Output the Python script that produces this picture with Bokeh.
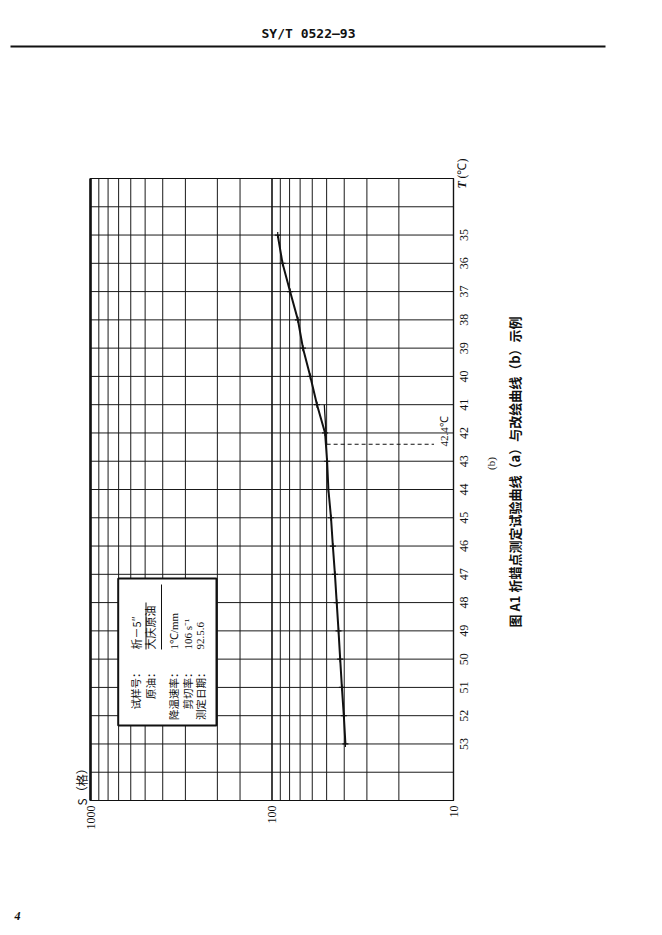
import math
from bokeh.plotting import figure
from bokeh.models import Range1d, Label
from bokeh.embed import file_html
from bokeh.resources import INLINE

# ---------------- data ----------------
temps = list(range(35, 54))
s_readings = [93.0, 87.5, 79.5, 72.0, 67.5, 61.5, 56.5, 51.0, 49.7, 48.9,
              47.3, 46.2, 45.0, 44.0, 43.0, 42.1, 41.2, 40.2, 39.4]
ext_temps = [41.0, 42.4]
ext_s = [51.5, 50.0]
wax_T = 42.4
wax_label = "42.4℃"
dash_s = [50.0, 12.8]

s_major = [1000, 100, 10]
s_major_labels = ["1000", "100", "10"]
s_grid = [20, 30, 40, 50, 60, 70, 80, 90, 150, 200, 300, 400, 500, 600, 700, 800, 900]
t_labels = list(range(35, 54))
t_grid = list(range(33, 56))
t_min, t_max = 33, 55
s_min, s_max = 10, 1000

info_keys = ["试样号：", "原油：", "降温速率：", "剪切率：", "测定日期："]
info_vals = ["析－5″", "大庆原油", "1℃/mm", "106 s⁻¹", "92.5.6"]

header_text = "SY/T 0522—93"
caption_text = "图 A1  析蜡点测定试验曲线（a）与改绘曲线（b）示例"
sub_text = "(b)"
x_title = "S（格）"
page_no = "4"

# ---------------- layout helpers (page px -> data) ----------------
X0, Y0 = 0, 0          # page position of the canvas
W, H = 654, 927
FL, FR, FT, FB = 90.0, 453.0, 178.0, 800.0
def dx(px):
    return 10 ** (3 - 2 * (px - FL) / (FR - FL))
def dy(py):
    return 33 + 22 * (py - FT) / (FB - FT)

CJK = "Noto Sans CJK SC"
SERIF = "Liberation Serif"
INK = "#111111"

p = figure(width=W, height=H, x_axis_type="log",
           x_range=Range1d(dx(X0), dx(X0 + W)), y_range=Range1d(dy(Y0 + H), dy(Y0)),
           output_backend="svg", toolbar_location=None,
           x_axis_location=None, y_axis_location=None,
           min_border=0)
p.min_border_left = p.min_border_right = p.min_border_top = p.min_border_bottom = 0
p.outline_line_color = None
p.grid.visible = False
p.background_fill_color = "white"
p.border_fill_color = "white"

# grid
p.segment(x0=s_grid, x1=s_grid, y0=[t_min] * len(s_grid), y1=[t_max] * len(s_grid),
          line_color="#1a1a1a", line_width=1)
p.segment(x0=[s_max] * len(t_grid), x1=[s_min] * len(t_grid), y0=t_grid, y1=t_grid,
          line_color="#1a1a1a", line_width=1)
p.segment(x0=s_major, x1=s_major, y0=[t_min] * 3, y1=[t_max] * 3,
          line_color=INK, line_width=[2.6, 1.6, 1.2])

# info box
p.quad(left=dx(117.7), right=dx(216), top=dy(578), bottom=dy(725),
       fill_color="white", line_color=INK, line_width=2)
p.segment(x0=[dx(145.5), dx(161)], x1=[dx(145.5), dx(161)],
          y0=[dy(649), dy(649)], y1=[dy(602), dy(584)],
          line_color=INK, line_width=1)

cols_x = [135, 149.5, 173, 187, 200]
for i, (k, v) in enumerate(zip(info_keys, info_vals)):
    p.add_layout(Label(x=dx(cols_x[i]), y=dy(667), text=k, angle=math.pi / 2,
                       text_align="right", text_baseline="middle",
                       text_font=CJK, text_font_size="10.5px", text_color=INK))
    vf = CJK if i < 2 else SERIF
    p.add_layout(Label(x=dx(cols_x[i]), y=dy(649), text=v, angle=math.pi / 2,
                       text_align="left", text_baseline="middle",
                       text_font=vf, text_font_size="11px", text_color=INK))

# tick labels
p.text(x=s_major, y=[t_max] * 3, text=s_major_labels, angle=math.pi / 2,
       y_offset=5, text_align="right", text_baseline="middle",
       text_font={"value": SERIF}, text_font_size="12px", text_color=INK)
p.text(x=[s_min] * len(t_labels), y=t_labels, text=[str(t) for t in t_labels],
       angle=math.pi / 2, x_offset=10, text_align="center", text_baseline="middle",
       text_font={"value": SERIF}, text_font_size="12px", text_color=INK)

# curve
p.line(x=ext_s, y=ext_temps, line_color=INK, line_width=1.3)
p.line(x=s_readings, y=temps, line_color=INK, line_width=2)
p.scatter(x=s_readings, y=temps, marker="cross", size=6, line_color=INK, line_width=1.2)
p.line(x=dash_s, y=[wax_T] * len(dash_s), line_color=INK, line_width=1, line_dash="4 3")

# frame border
p.quad(left=s_max, right=s_min, top=t_min, bottom=t_max,
       fill_color=None, line_color=INK, line_width=1.2)

def lab(px, py, text, align, font, size, style="normal", angle=math.pi / 2):
    p.add_layout(Label(x=dx(px), y=dy(py), text=text, angle=angle,
                       text_align=align, text_baseline="middle",
                       text_font=font, text_font_size=size, text_font_style=style,
                       text_color=INK))

lab(443, 446, wax_label, "left", SERIF, "11px")
lab(461, 188, "T", "left", SERIF, "12px", "bold italic")
lab(461, 178, "(℃)", "left", SERIF, "12px")
lab(81, 805, x_title, "left", CJK, "12px")
lab(490, 463, sub_text, "center", SERIF, "11px")
lab(514, 470, caption_text, "center", CJK, "13px", "bold")
lab(17, 915, page_no, "center", SERIF, "12px", "bold italic", angle=0)
lab(308, 33, header_text, "center", "DejaVu Sans Mono", "13px", "bold", angle=0)

# header rule
p.segment(x0=[dx(10)], x1=[dx(605)], y0=[dy(46)], y1=[dy(46)], line_color=INK, line_width=2)

open("out.html", "w").write(file_html(p, INLINE))
